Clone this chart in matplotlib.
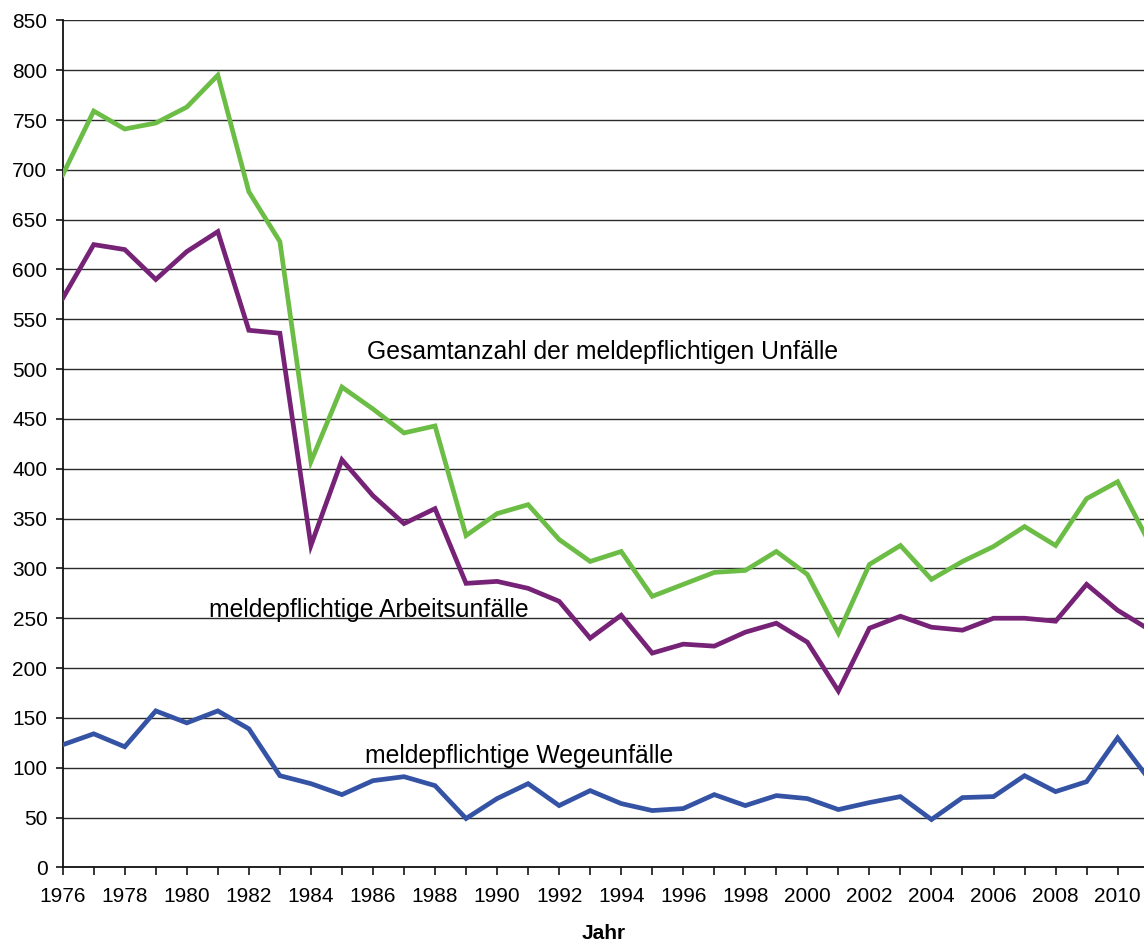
import matplotlib.pyplot as plt
import matplotlib.ticker as mticker

plt.rcParams['font.family'] = ['Liberation Sans', 'DejaVu Sans']

years = list(range(1976, 2012))

# Gesamtanzahl der meldepflichtigen Unfälle
gesamt = [695, 759, 741, 747, 763, 795, 678, 628, 407, 482,
          460, 436, 443, 333, 355, 364, 329, 307, 317, 272,
          284, 296, 298, 317, 294, 235, 304, 323, 289, 307,
          322, 342, 323, 370, 387, 327]

# meldepflichtige Arbeitsunfälle
arbeit = [571, 625, 620, 590, 618, 638, 539, 536, 323, 409,
          373, 345, 360, 285, 287, 280, 267, 230, 253, 215,
          224, 222, 236, 245, 226, 177, 240, 252, 241, 238,
          250, 250, 247, 284, 258, 239]

# meldepflichtige Wegeunfälle
wege = [123, 134, 121, 157, 145, 157, 139, 92, 84, 73,
        87, 91, 82, 49, 69, 84, 62, 77, 64, 57,
        59, 73, 62, 72, 69, 58, 65, 71, 48, 70,
        71, 92, 76, 86, 130, 89]

fig = plt.figure(figsize=(11.44, 9.44), dpi=100)
ax = fig.add_axes([0.0548, 0.0812, 0.9452, 0.8972])

ax.plot(years, gesamt, color='#6cbd45', lw=3.4, solid_joinstyle='miter', zorder=3)
ax.plot(years, arbeit, color='#762277', lw=3.4, solid_joinstyle='miter', zorder=3)
ax.plot(years, wege, color='#3553a4', lw=3.4, solid_joinstyle='miter', zorder=3)

ax.set_xlim(1976, 2010.85)
ax.set_ylim(0, 850)

ax.yaxis.set_major_locator(mticker.MultipleLocator(50))
ax.xaxis.set_major_locator(mticker.MultipleLocator(2))
ax.xaxis.set_minor_locator(mticker.MultipleLocator(1))
ax.xaxis.set_minor_formatter(mticker.NullFormatter())

ax.grid(axis='y', color='#2b2b2b', lw=1.0, zorder=1)
ax.set_axisbelow(True)

for side in ('top', 'right'):
    ax.spines[side].set_visible(False)
for side in ('left', 'bottom'):
    ax.spines[side].set_linewidth(1.3)
    ax.spines[side].set_color('#111111')

ax.tick_params(axis='y', direction='out', length=5, width=1.1, pad=6, labelsize=15)
ax.tick_params(axis='x', which='both', direction='out', length=6, width=1.1)
ax.tick_params(axis='x', which='major', pad=8, labelsize=15)

ax.set_xlabel('Jahr', fontsize=15, fontweight='bold', labelpad=13)

ax.text(1985.81, 510, 'Gesamtanzahl der meldepflichtigen Unfälle',
        fontsize=17.8, va='baseline', ha='left')
ax.text(1980.7, 251.5, 'meldepflichtige Arbeitsunfälle',
        fontsize=17.8, va='baseline', ha='left')
ax.text(1985.74, 104.4, 'meldepflichtige Wegeunfälle',
        fontsize=17.8, va='baseline', ha='left')

fig.savefig('out.png', dpi=100)
